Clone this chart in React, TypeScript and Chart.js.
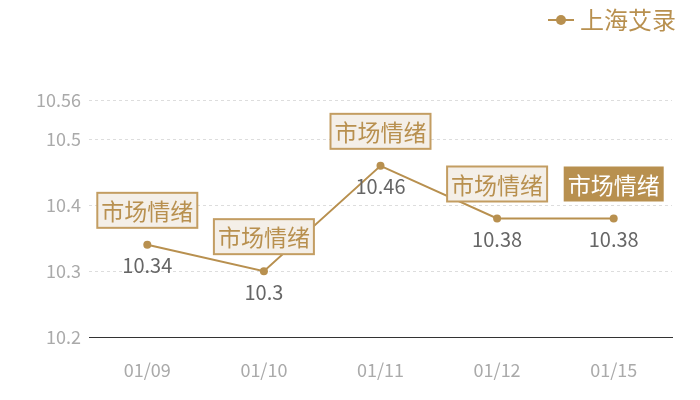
import { useEffect, useRef } from 'react'
import { Chart, registerables } from 'chart.js'

Chart.register(...registerables)

const categories = ['01/09', '01/10', '01/11', '01/12', '01/15']
const prices = [10.34, 10.3, 10.46, 10.38, 10.38]
const yTicks = [10.2, 10.3, 10.4, 10.5, 10.56]
const seriesName = '上海艾录'
const tagText = '市场情绪'

const GOLD = '#b8904f'
const FONT = '"Noto Sans CJK SC", "Noto Sans", sans-serif'

/** Legend marker: short line with a dot in the middle. */
function makeLegendIcon(): HTMLCanvasElement {
  const c = document.createElement('canvas')
  c.width = 26
  c.height = 12
  const g = c.getContext('2d')!
  g.strokeStyle = GOLD
  g.lineWidth = 2
  g.beginPath()
  g.moveTo(0, 6)
  g.lineTo(26, 6)
  g.stroke()
  g.fillStyle = GOLD
  g.beginPath()
  g.arc(13, 6, 5, 0, Math.PI * 2)
  g.fill()
  return c
}

// value under each point, "市场情绪" tag above it (last one filled)
const pointLabels = {
  id: 'pointLabels',
  afterDatasetsDraw(chart: Chart) {
    const { ctx } = chart
    const meta = chart.getDatasetMeta(0)
    ctx.save()
    meta.data.forEach((pt, i) => {
      const { x, y } = pt.getProps(['x', 'y'], true) as { x: number; y: number }

      ctx.font = `20px ${FONT}`
      ctx.fillStyle = '#666'
      ctx.textAlign = 'center'
      ctx.textBaseline = 'middle'
      ctx.fillText(String(prices[i]), x, y + 21)

      ctx.font = `23px ${FONT}`
      const w = ctx.measureText(tagText).width + 8
      const h = 35
      const bottom = y - 17
      const left = x - w / 2
      const last = i === meta.data.length - 1
      ctx.fillStyle = last ? GOLD : '#f4efe8'
      ctx.fillRect(left, bottom - h, w, h)
      if (!last) {
        ctx.strokeStyle = '#c39d62'
        ctx.lineWidth = 2
        ctx.strokeRect(left, bottom - h, w, h)
      }
      ctx.fillStyle = last ? '#fff' : GOLD
      ctx.fillText(tagText, x, bottom - h / 2 + 1)
    })
    ctx.restore()
  },
}

export default function App() {
  const canvasRef = useRef<HTMLCanvasElement>(null)
  const chartRef = useRef<Chart | null>(null)

  useEffect(() => {
    document.body.style.margin = '0'
    if (!canvasRef.current) return
    const ctx = canvasRef.current.getContext('2d')
    if (!ctx) return

    const icon = makeLegendIcon()

    chartRef.current = new Chart(ctx, {
      type: 'line',
      data: {
        labels: categories,
        datasets: [
          {
            label: seriesName,
            data: prices,
            borderColor: GOLD,
            backgroundColor: GOLD,
            borderWidth: 2,
            pointRadius: 4,
            pointBackgroundColor: GOLD,
            pointBorderWidth: 0,
            tension: 0,
          },
        ],
      },
      options: {
        animation: false,
        responsive: true,
        maintainAspectRatio: false,
        layout: { padding: { top: 8, right: 24, left: 0, bottom: 0 } },
        plugins: {
          tooltip: { enabled: false },
          // empty title used as a spacer between legend and plot
          title: {
            display: true,
            text: '',
            weight: 500,
            font: { size: 10 },
            padding: { top: 0, bottom: 46 },
          },
          legend: {
            position: 'top',
            align: 'end',
            labels: {
              usePointStyle: true,
              pointStyleWidth: 14,
              color: GOLD,
              font: { family: FONT, size: 24 },
              padding: 0,
              generateLabels: () => [
                {
                  text: seriesName,
                  fillStyle: GOLD,
                  strokeStyle: GOLD,
                  fontColor: GOLD,
                  lineWidth: 0,
                  pointStyle: icon,
                  datasetIndex: 0,
                },
              ],
            },
          },
        },
        scales: {
          x: {
            offset: true,
            grid: { display: false, drawTicks: false },
            border: { display: true, color: '#333', width: 1 },
            ticks: { color: '#aaa', font: { family: FONT, size: 18 }, padding: 22 },
            afterFit: (scale) => {
              scale.height = 63
            },
          },
          y: {
            min: 10.2,
            max: 10.56,
            grid: { color: '#ddd', drawTicks: false },
            border: { display: false, dash: [3, 3] },
            ticks: {
              color: '#aaa',
              font: { family: FONT, size: 18 },
              padding: 8,
              callback: (v) => String(v),
            },
            afterBuildTicks: (scale) => {
              scale.ticks = yTicks.map((v) => ({ value: v }))
            },
            afterFit: (scale) => {
              scale.width = 89
            },
          },
          // blank strip so the plot stops a little left of the legend's right edge
          spacer: {
            position: 'right',
            grid: { display: false, drawTicks: false },
            border: { display: false },
            ticks: { display: false },
            afterFit: (scale) => {
              scale.width = 4
            },
          },
        },
      },
      plugins: [pointLabels],
    })

    return () => {
      if (chartRef.current) {
        chartRef.current.destroy()
        chartRef.current = null
      }
    }
  }, [])

  return (
    <div style={{ width: 700, height: 400 }}>
      <canvas ref={canvasRef} />
    </div>
  )
}
